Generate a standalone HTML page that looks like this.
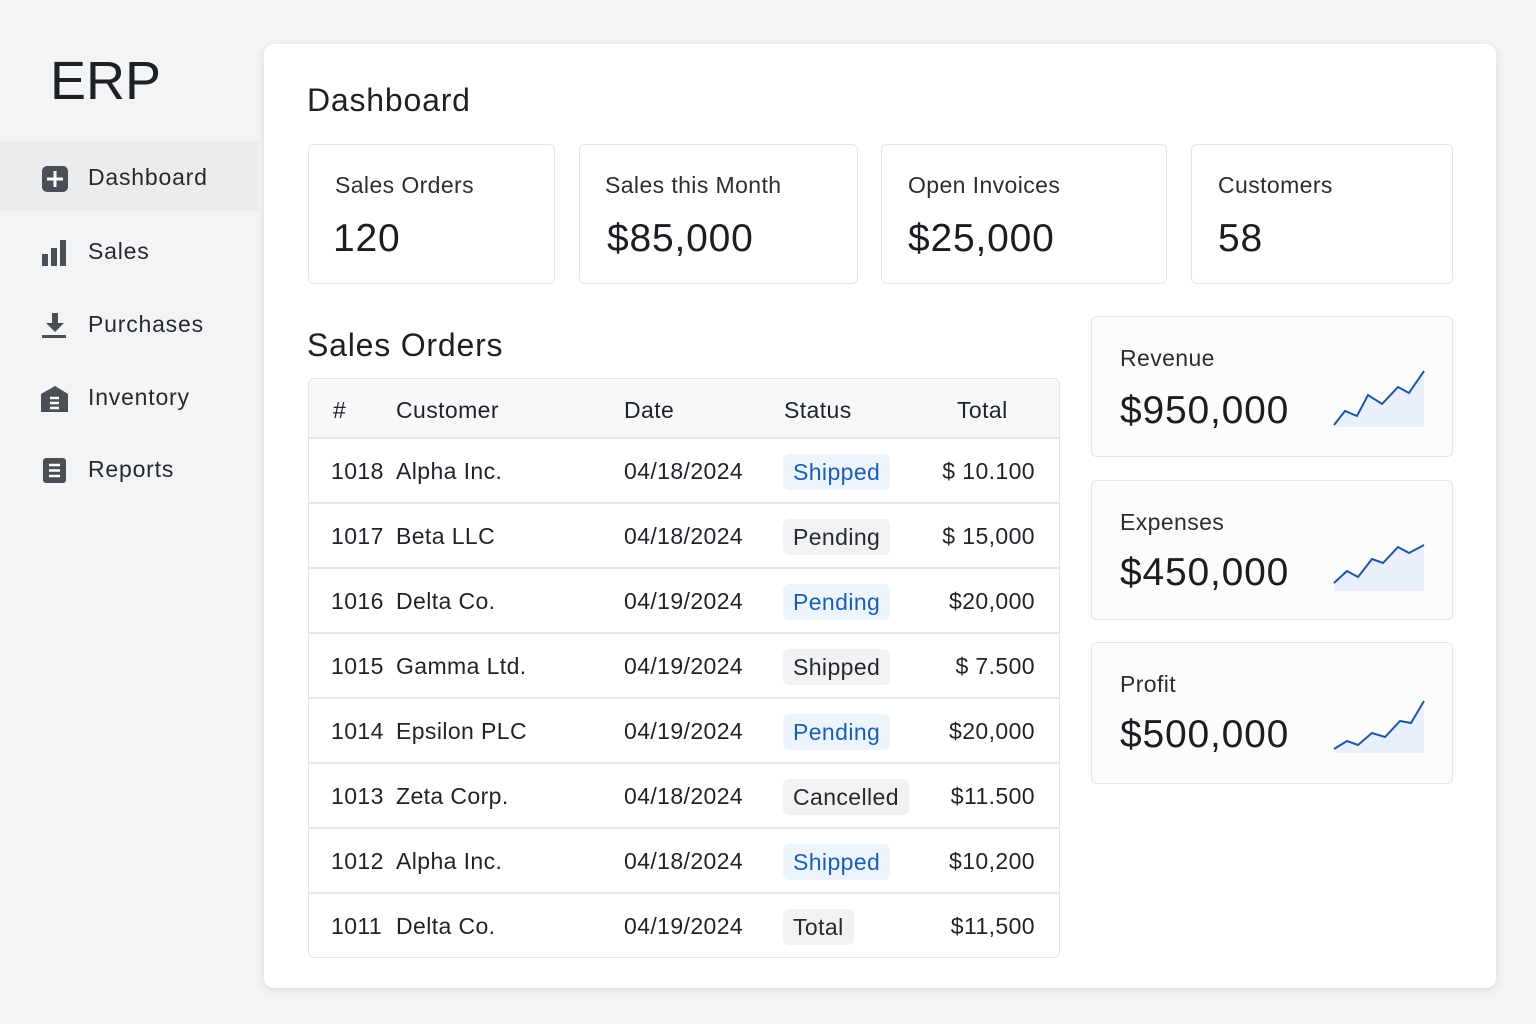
<!DOCTYPE html>
<html><head><meta charset="utf-8"><style>
*{margin:0;padding:0;box-sizing:border-box}
body{width:1536px;height:1024px;background:#f3f4f5;font-family:"Liberation Sans",sans-serif;color:#1f2329;position:relative;overflow:hidden;letter-spacing:0.4px}
.a{position:absolute}
.card{position:absolute;background:#fff;border:1.5px solid #e4e6e9;border-radius:6px}
.lbl{position:absolute;font-size:23px;color:#2a2e33}
.val{position:absolute;font-size:39px;color:#1a1d21;letter-spacing:0.8px}
.nav{position:absolute;left:88px;font-size:23px;color:#262a2f;letter-spacing:0.8px}
.row{position:absolute;left:0;width:100%;height:65px;border-top:2px solid #e6e7e9;font-size:23px}
.row span{position:absolute;top:19px}
.b{position:absolute;top:15px;left:474px;height:36px;padding:5px 10px;border-radius:6px;font-size:23px}
.bl{background:#edf4fc;color:#1a5fb4}.gr{background:#f1f2f3;color:#262a2f}
.t{right:24px}
</style></head><body>
<div class="a" style="left:50px;top:50px;font-size:54px;color:#1d2126;letter-spacing:0">ERP</div>
<div class="a" style="left:0;top:141px;width:258px;height:70px;background:#ebecee"></div>
<svg class="a" style="left:41px;top:165px" width="28" height="28"><rect x="1" y="1" width="26" height="26" rx="5" fill="#4a4f56"/><path d="M14 6v16M6 14h16" stroke="#fff" stroke-width="3"/></svg>
<div class="nav" style="top:164px">Dashboard</div>
<svg class="a" style="left:42px;top:238px" width="26" height="30"><rect x="0" y="16" width="6" height="12" fill="#4a4f56"/><rect x="9" y="10" width="6" height="18" fill="#4a4f56"/><rect x="18" y="2" width="6" height="26" fill="#4a4f56"/></svg>
<div class="nav" style="top:238px">Sales</div>
<svg class="a" style="left:42px;top:312px" width="26" height="28"><path d="M10 1h6v10h6l-9 9-9-9h6z" fill="#4a4f56"/><rect x="0" y="23" width="24" height="3" fill="#4a4f56"/></svg>
<div class="nav" style="top:311px">Purchases</div>
<svg class="a" style="left:41px;top:385px" width="28" height="28"><path d="M0 9L14 1 27 9v18H0z" fill="#4a4f56"/><path d="M9 13h9M9 18h9M9 23h9" stroke="#fff" stroke-width="2.5"/></svg>
<div class="nav" style="top:384px">Inventory</div>
<svg class="a" style="left:43px;top:457px" width="24" height="28"><rect x="0" y="1" width="23" height="25" rx="3" fill="#4a4f56"/><path d="M6 8h11M6 13.5h11M6 19h11" stroke="#fff" stroke-width="2.5"/></svg>
<div class="nav" style="top:456px">Reports</div>

<div class="a" style="left:264px;top:44px;width:1232px;height:944px;background:#fff;border-radius:10px;box-shadow:0 2px 8px rgba(0,0,0,.1)"></div>
<div class="a" style="left:307px;top:82px;font-size:32px;color:#1d2126;letter-spacing:0.8px">Dashboard</div>

<div class="card" style="left:308px;top:144px;width:247px;height:140px"><div class="lbl" style="left:26px;top:27px">Sales Orders</div><div class="val" style="left:24px;top:72px">120</div></div>
<div class="card" style="left:579px;top:144px;width:279px;height:140px"><div class="lbl" style="left:25px;top:27px">Sales this Month</div><div class="val" style="left:27px;top:72px">$85,000</div></div>
<div class="card" style="left:881px;top:144px;width:286px;height:140px"><div class="lbl" style="left:26px;top:27px">Open Invoices</div><div class="val" style="left:26px;top:72px">$25,000</div></div>
<div class="card" style="left:1191px;top:144px;width:262px;height:140px"><div class="lbl" style="left:26px;top:27px">Customers</div><div class="val" style="left:26px;top:72px">58</div></div>

<div class="a" style="left:307px;top:327px;font-size:32px;color:#1d2126;letter-spacing:0.8px">Sales Orders</div>
<div class="card" style="left:308px;top:378px;width:752px;height:580px;overflow:hidden">
<div class="a" style="left:0;top:0;width:100%;height:60px;background:#f7f8f9;font-size:23px"><span class="a" style="left:24px;top:18px">#</span><span class="a" style="left:87px;top:18px">Customer</span><span class="a" style="left:315px;top:18px">Date</span><span class="a" style="left:475px;top:18px">Status</span><span class="a" style="left:648px;top:18px">Total</span></div>
<div class="row" style="top:58px"><span style="left:22px">1018</span><span style="left:87px">Alpha Inc.</span><span style="left:315px">04/18/2024</span><div class="b bl">Shipped</div><span class="t">$ 10.100</span></div>
<div class="row" style="top:123px"><span style="left:22px">1017</span><span style="left:87px">Beta LLC</span><span style="left:315px">04/18/2024</span><div class="b gr">Pending</div><span class="t">$ 15,000</span></div>
<div class="row" style="top:188px"><span style="left:22px">1016</span><span style="left:87px">Delta Co.</span><span style="left:315px">04/19/2024</span><div class="b bl">Pending</div><span class="t">$20,000</span></div>
<div class="row" style="top:253px"><span style="left:22px">1015</span><span style="left:87px">Gamma Ltd.</span><span style="left:315px">04/19/2024</span><div class="b gr">Shipped</div><span class="t">$ 7.500</span></div>
<div class="row" style="top:318px"><span style="left:22px">1014</span><span style="left:87px">Epsilon PLC</span><span style="left:315px">04/19/2024</span><div class="b bl">Pending</div><span class="t">$20,000</span></div>
<div class="row" style="top:383px"><span style="left:22px">1013</span><span style="left:87px">Zeta Corp.</span><span style="left:315px">04/18/2024</span><div class="b gr">Cancelled</div><span class="t">$11.500</span></div>
<div class="row" style="top:448px"><span style="left:22px">1012</span><span style="left:87px">Alpha Inc.</span><span style="left:315px">04/18/2024</span><div class="b bl">Shipped</div><span class="t">$10,200</span></div>
<div class="row" style="top:513px"><span style="left:22px">1011</span><span style="left:87px">Delta Co.</span><span style="left:315px">04/19/2024</span><div class="b gr">Total</div><span class="t">$11,500</span></div>
</div>

<div class="card" style="left:1091px;top:316px;width:362px;height:141px;background:#fcfcfd"><div class="lbl" style="left:28px;top:28px">Revenue</div><div class="val" style="left:28px;top:72px">$950,000</div>
<svg class="a" style="left:240px;top:50px" width="100" height="64"><path d="M2 58L13 44 25 49 36 28 50 37 66 20 77 26 92 4V60H2z" fill="#e9f0fb"/><path d="M2 58L13 44 25 49 36 28 50 37 66 20 77 26 92 4" fill="none" stroke="#1d56a8" stroke-width="2"/></svg></div>
<div class="card" style="left:1091px;top:480px;width:362px;height:140px;background:#fcfcfd"><div class="lbl" style="left:28px;top:28px">Expenses</div><div class="val" style="left:28px;top:70px">$450,000</div>
<svg class="a" style="left:240px;top:56px" width="100" height="56"><path d="M2 46L15 34 26 40 40 22 51 26 66 10 77 16 92 8V54H2z" fill="#e9f0fb"/><path d="M2 46L15 34 26 40 40 22 51 26 66 10 77 16 92 8" fill="none" stroke="#1d56a8" stroke-width="2"/></svg></div>
<div class="card" style="left:1091px;top:642px;width:362px;height:142px;background:#fcfcfd"><div class="lbl" style="left:28px;top:28px">Profit</div><div class="val" style="left:28px;top:70px">$500,000</div>
<svg class="a" style="left:240px;top:52px" width="100" height="60"><path d="M2 54L15 46 26 50 40 38 53 42 68 26 79 28 92 6V58H2z" fill="#e9f0fb"/><path d="M2 54L15 46 26 50 40 38 53 42 68 26 79 28 92 6" fill="none" stroke="#1d56a8" stroke-width="2"/></svg></div>
</body></html>
